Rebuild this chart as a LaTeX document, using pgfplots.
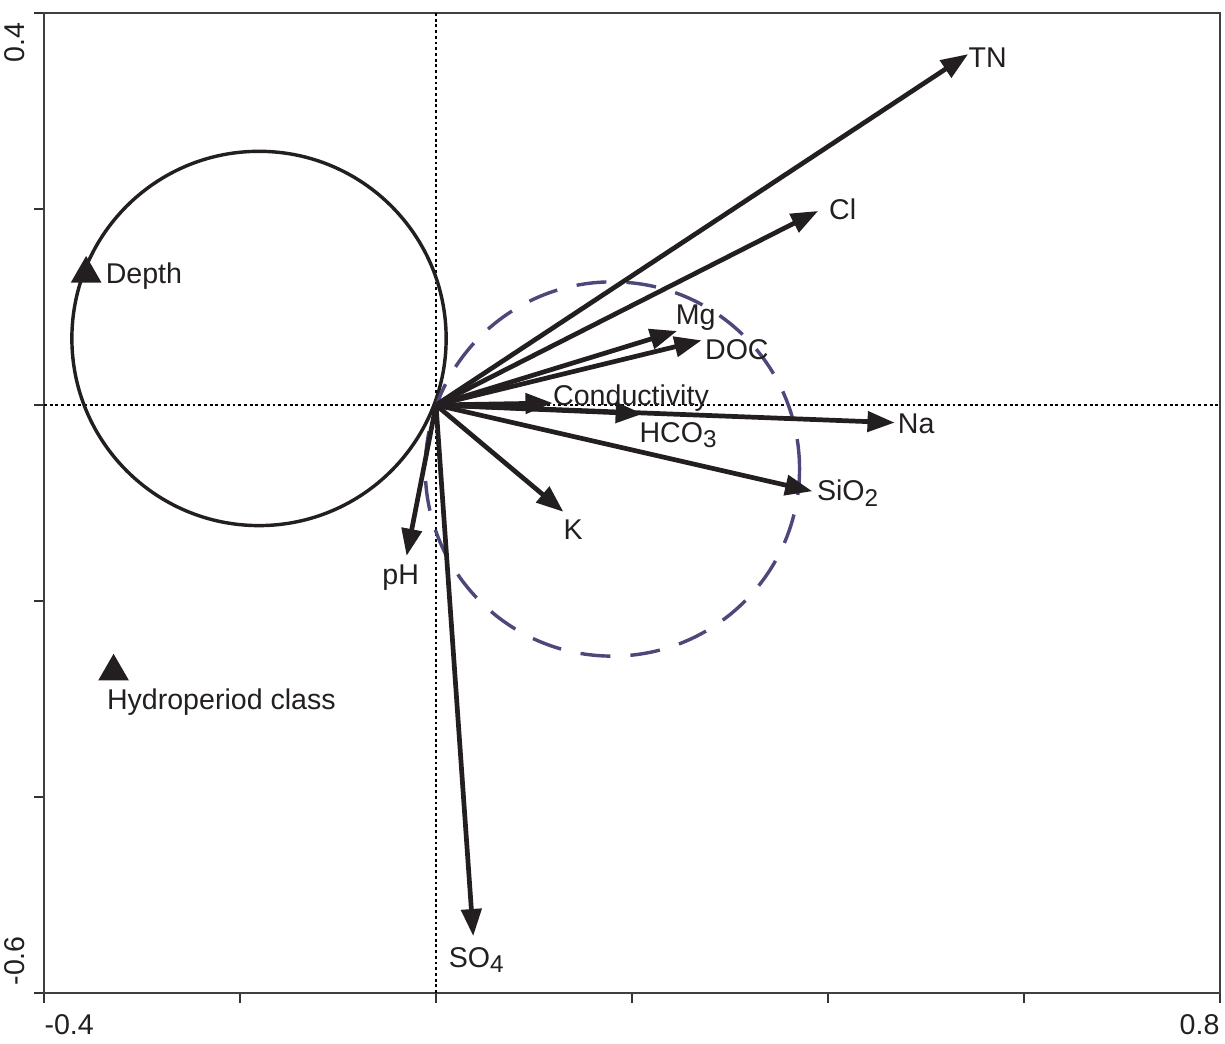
\documentclass[border=0pt]{standalone}
\usepackage{fontspec}
\setmainfont{Liberation Sans}
\usepackage{pgfplots}
\pgfplotsset{compat=1.18}
\usetikzlibrary{arrows.meta}
\definecolor{ink}{RGB}{35,31,32}
\definecolor{dashc}{RGB}{76,72,122}
\tikzset{arr/.style={ink, line width=1.65pt, -{Triangle[length=9.5pt,width=7pt]}, mark=none}}
\newcommand{\sub}[1]{\raisebox{-0.35ex}{\fontsize{8.5}{10}\selectfont #1}}
\begin{document}
\begin{tikzpicture}[font=\fontsize{10}{12}\selectfont]
\begin{axis}[
  name=ax,
  x=343pt, y=343pt,
  xmin=-0.4, xmax=0.8, ymin=-0.6, ymax=0.4,
  axis line style={draw=black!75, line width=0.7pt, -},
  xtick={-0.4,-0.2,0,0.2,0.4,0.6,0.8},
  ytick={-0.6,-0.4,-0.2,0,0.2,0.4},
  xticklabels={}, yticklabels={},
  tick align=outside, tick pos=left,
  major tick length=3.5pt,
  tick style={black!80, line width=0.7pt},
  clip=false,
]
% reference lines
\addplot[black, line width=0.4pt, dash pattern=on 1pt off 1pt, mark=none] coordinates {(0,-0.6) (0,0.4)};
\addplot[black, line width=0.4pt, dash pattern=on 1pt off 1pt, mark=none] coordinates {(-0.4,0) (0.8,0)};
% circles
\draw[ink, line width=1.2pt] (axis cs:-0.1806,0.0679) circle[radius=65.5pt];
\draw[dashc, line width=1.2pt, dash pattern=on 10.5pt off 7pt] (axis cs:0.180,-0.0653) circle[radius=65.5pt];
% arrows
\addplot[arr] coordinates {(0,0) (0.543,0.358)};
\addplot[arr] coordinates {(0,0) (0.390,0.198)};
\addplot[arr] coordinates {(0,0) (0.246,0.0755)};
\addplot[arr] coordinates {(0,0) (0.271,0.066)};
\addplot[arr] coordinates {(0,0) (0.119,0.002)};
\addplot[arr] coordinates {(0,0) (0.211,-0.009)};
\addplot[arr] coordinates {(0,0) (0.468,-0.018)};
\addplot[arr] coordinates {(0,0) (0.384,-0.088)};
\addplot[arr] coordinates {(0,0) (0.130,-0.109)};
\addplot[arr] coordinates {(0,0) (-0.030,-0.154)};
\addplot[arr] coordinates {(0,0) (0.038,-0.542)};
% triangles
\addplot[ink, only marks, mark=triangle*, mark size=5.8pt] coordinates {(-0.357,0.134) (-0.329,-0.272)};
% labels
\begin{scope}[every node/.style={text=ink, inner sep=0pt}]
\node at (axis cs:0.563,0.354) {TN};
\node at (axis cs:0.415,0.200) {Cl};
\node at (axis cs:0.265,0.089) {Mg};
\node at (axis cs:0.307,0.056) {DOC};
\node at (axis cs:0.199,0.007) {Conductivity};
\node at (axis cs:0.247,-0.031) {HCO\sub{3}};
\node at (axis cs:0.490,-0.019) {Na};
\node at (axis cs:0.420,-0.090) {SiO\sub{2}};
\node at (axis cs:0.140,-0.127) {K};
\node at (axis cs:-0.036,-0.176) {pH};
\node at (axis cs:0.041,-0.566) {SO\sub{4}};
\node at (axis cs:-0.298,0.132) {Depth};
\node at (axis cs:-0.219,-0.303) {Hydroperiod class};
\end{scope}
\end{axis}
% tick labels
\begin{scope}[every node/.style={text=ink, inner sep=0pt}]
\node[anchor=north west] at ([yshift=-7.3pt]ax.south west) {-0.4};
\node[anchor=north east] at ([yshift=-7.3pt]ax.south east) {0.8};
\node[rotate=90, anchor=south west] at ([xshift=-6.65pt, yshift=2.45pt]ax.south west) {-0.6};
\node[rotate=90, anchor=south east] at ([xshift=-6.65pt, yshift=-3.15pt]ax.north west) {0.4};
\end{scope}
\pgfresetboundingbox
\path ([xshift=-15.4pt, yshift=4.55pt]ax.north west) rectangle ([xshift=1.75pt, yshift=-17.5pt]ax.south east);
\end{tikzpicture}
\end{document}
